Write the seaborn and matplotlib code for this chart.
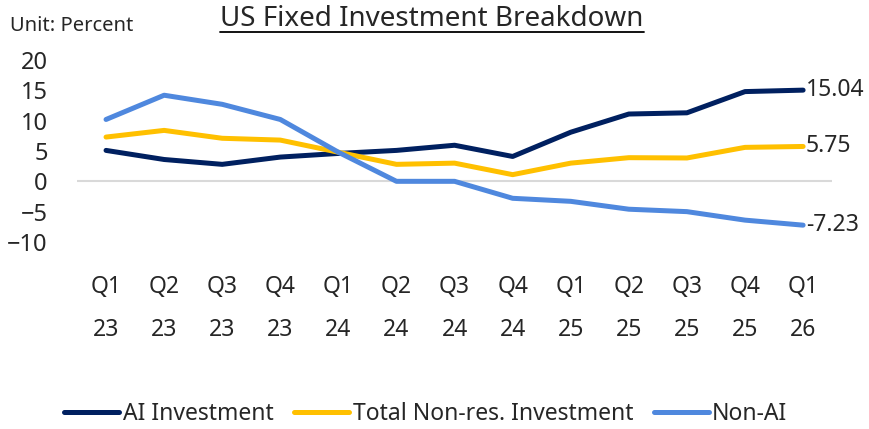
import numpy as np
import pandas as pd
import matplotlib
matplotlib.use('Agg')
import matplotlib.pyplot as plt
from matplotlib.lines import Line2D
import seaborn as sns

quarters = ['Q1\n23', 'Q2\n23', 'Q3\n23', 'Q4\n23', 'Q1\n24', 'Q2\n24', 'Q3\n24',
            'Q4\n24', 'Q1\n25', 'Q2\n25', 'Q3\n25', 'Q4\n25', 'Q1\n26']
ai_inv    = [5.1, 3.6, 2.8, 4.0, 4.6, 5.1, 5.95, 4.1, 8.1, 11.1, 11.3, 14.8, 15.04]
total_inv = [7.3, 8.4, 7.1, 6.8, 4.8, 2.8, 3.0, 1.1, 3.0, 3.9, 3.85, 5.6, 5.75]
non_ai    = [10.2, 14.2, 12.7, 10.2, 4.8, 0.0, 0.0, -2.8, -3.3, -4.6, -5.0, -6.4, -7.23]

series = ['AI Investment', 'Total Non-res. Investment', 'Non-AI']
NAVY, GOLD, BLUE = '#002060', '#FFC000', '#4F88DE'
palette = dict(zip(series, [NAVY, GOLD, BLUE]))

df = pd.DataFrame({
    'x': list(range(len(quarters))) * 3,
    'value': ai_inv + total_inv + non_ai,
    'series': np.repeat(series, len(quarters)),
})

sns.set_style('white')
plt.rcParams['font.family'] = ['Noto Sans', 'DejaVu Sans']

fig = plt.figure(figsize=(8.69, 4.29), dpi=100)
ax = fig.add_axes([0.0886, 0.436, 0.869, 0.424])

ax.axhline(0, color='#D9D9D9', lw=1.5, zorder=1)
sns.lineplot(data=df, x='x', y='value', hue='series', palette=palette,
             hue_order=series, linewidth=3.6, ax=ax, legend=False, zorder=3)
for l in ax.lines:
    l.set_solid_capstyle('round')

ax.set_xlim(-0.5, len(quarters) - 0.5)
ax.set_ylim(-10, 20)
ax.set_yticks(range(-10, 21, 5))
ax.set_xticks(range(len(quarters)))
ax.set_xticklabels(quarters, linespacing=2.05, fontsize=16.5)
ax.tick_params(axis='y', labelsize=17, length=0, pad=21)
ax.tick_params(axis='x', length=0, pad=24)
ax.set_xlabel('')
ax.set_ylabel('')
for s in ax.spines.values():
    s.set_visible(False)

# end labels
last = len(quarters) - 1
for vals in (ai_inv, total_inv, non_ai):
    ax.annotate(f'{vals[-1]:.2f}', xy=(last, vals[-1]), xytext=(2, 0),
                textcoords='offset points', va='center', ha='left', fontsize=16.5)

fig.text(0.012, 0.94, 'Unit: Percent', fontsize=14.5, va='center', ha='left')
title = fig.text(0.497, 0.955, 'US Fixed Investment Breakdown', fontsize=20,
                 va='center', ha='center')
fig.canvas.draw()
bb = title.get_window_extent().transformed(fig.transFigure.inverted())
fig.add_artist(Line2D([bb.x0, bb.x1], [bb.y0 + 0.004, bb.y0 + 0.004],
                      transform=fig.transFigure, color='black', lw=1.3))

handles = [Line2D([0], [0], color=palette[s], lw=3.6, solid_capstyle='round') for s in series]
fig.legend(handles, series, loc='center', bbox_to_anchor=(0.49, 0.035), ncol=3,
           frameon=False, fontsize=16.5, handlelength=2.4, handletextpad=0.15,
           columnspacing=0.9)

fig.savefig('out.png', dpi=100)
